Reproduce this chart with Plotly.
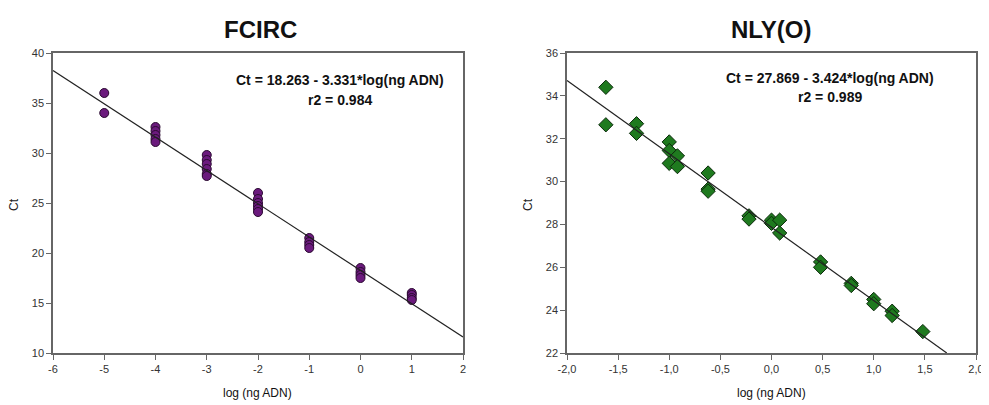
import plotly.graph_objects as go

# FCIRC standard curve data
fcirc_x = [-5, -5,
           -4, -4, -4, -4, -4,
           -3, -3, -3, -3, -3, -3,
           -2, -2, -2, -2, -2, -2,
           -1, -1, -1, -1,
           0, 0, 0, 0,
           1, 1, 1, 1]
fcirc_ct = [36.0, 34.0,
            32.6, 32.2, 31.8, 31.4, 31.1,
            29.8, 29.3, 28.9, 28.4, 27.9, 27.7,
            26.0, 25.4, 25.0, 24.7, 24.4, 24.1,
            21.5, 21.1, 20.8, 20.5,
            18.5, 18.1, 17.8, 17.5,
            16.0, 15.8, 15.5, 15.3]
fcirc_fit = (18.263, -3.331)
fcirc_range = [-6, 2]
fcirc_ticks = [-6, -5, -4, -3, -2, -1, 0, 1, 2]
fcirc_ticklabels = ['-6', '-5', '-4', '-3', '-2', '-1', '0', '1', '2']

# NLY(O) standard curve data
nly_x = [-1.62, -1.62, -1.32, -1.32, -1.0, -1.0, -1.0, -0.92, -0.92,
         -0.62, -0.62, -0.62, -0.22, -0.22, 0.0, 0.0, 0.08, 0.08,
         0.48, 0.48, 0.78, 0.78, 1.0, 1.0, 1.18, 1.18, 1.48]
nly_ct = [34.4, 32.65, 32.7, 32.25, 31.85, 31.45, 30.85, 31.2, 30.7,
          30.4, 29.65, 29.55, 28.4, 28.25, 28.2, 28.05, 28.2, 27.6,
          26.25, 26.0, 25.25, 25.15, 24.5, 24.3, 23.95, 23.75, 23.0]
nly_fit = (27.869, -3.424)
nly_range = [-2.0, 2.0]
nly_ticks = [-2.0, -1.5, -1.0, -0.5, 0.0, 0.5, 1.0, 1.5, 2.0]
nly_ticklabels = ['-2,0', '-1,5', '-1,0', '-0,5', '0,0', '0,5', '1,0', '1,5', '2,0']

# the page body has an 8px margin, so the figure is drawn 8px smaller
W, H, OFF = 981, 397, 8


def px(x):
    return (x - OFF) / W


def py(y):
    return 1 - (y - OFF) / H


fig = go.Figure()

# left panel points and regression line
fig.add_trace(go.Scatter(
    x=fcirc_x, y=fcirc_ct, mode='markers', xaxis='x', yaxis='y',
    marker=dict(symbol='circle', size=9, color='#6b1a7d',
                line=dict(color='#2a0a30', width=1)),
    showlegend=False))
fig.add_trace(go.Scatter(
    x=fcirc_range, y=[fcirc_fit[0] + fcirc_fit[1] * v for v in fcirc_range],
    mode='lines', xaxis='x', yaxis='y', line=dict(color='#222222', width=1.2),
    showlegend=False))

# right panel: line clipped where it meets Ct = 22
x_end = (22 - nly_fit[0]) / nly_fit[1]
fig.add_trace(go.Scatter(
    x=nly_x, y=nly_ct, mode='markers', xaxis='x2', yaxis='y2',
    marker=dict(symbol='diamond', size=11, color='#1f7a1f',
                line=dict(color='#0b2a0b', width=1)),
    showlegend=False))
fig.add_trace(go.Scatter(
    x=[nly_range[0], x_end], y=[nly_fit[0] + nly_fit[1] * v for v in [nly_range[0], x_end]],
    mode='lines', xaxis='x2', yaxis='y2', line=dict(color='#222222', width=1.2),
    showlegend=False))

axis_style = dict(showline=True, linecolor='#666666', linewidth=1.5, mirror=True,
                  ticks='outside', ticklen=5, tickcolor='#666666', showgrid=False,
                  zeroline=False, tickfont=dict(size=11, color='#333333'))

fig.update_layout(
    width=W, height=H,
    margin=dict(l=0, r=0, t=0, b=0, autoexpand=False),
    paper_bgcolor='white', plot_bgcolor='white',
    font=dict(family='Liberation Sans, Arial, sans-serif', color='#222222'),
    xaxis=dict(domain=[px(53), px(463)], range=fcirc_range, tickvals=fcirc_ticks,
               ticktext=fcirc_ticklabels, anchor='y', **axis_style),
    yaxis=dict(domain=[py(353), py(53)], range=[10, 40], dtick=5, anchor='x', **axis_style),
    xaxis2=dict(domain=[px(567), px(976)], range=nly_range, tickvals=nly_ticks,
                ticktext=nly_ticklabels, anchor='y2', **axis_style),
    yaxis2=dict(domain=[py(353), py(53)], range=[22, 36], dtick=2, anchor='x2', **axis_style),
)

# titles, axis labels and fit equations
texts = [
    dict(x=260, y=30, text='<b>FCIRC</b>', size=24),
    dict(x=771, y=30, text='<b>NLY(O)</b>', size=24),
    dict(x=258, y=393, text='log (ng ADN)', size=12),
    dict(x=771, y=393, text='log (ng ADN)', size=12),
    dict(x=340, y=80, text='<b>Ct = 18.263 - 3.331*log(ng ADN)</b>', size=14),
    dict(x=340, y=100, text='<b>r2 = 0.984</b>', size=14),
    dict(x=830, y=78, text='<b>Ct = 27.869 - 3.424*log(ng ADN)</b>', size=14),
    dict(x=830, y=97, text='<b>r2 = 0.989</b>', size=14),
]
for t in texts:
    fig.add_annotation(x=px(t['x']), y=py(t['y']), xref='paper', yref='paper',
                       text=t['text'], showarrow=False, xanchor='center', yanchor='middle',
                       font=dict(size=t['size'], color='#111111'))

for xpos in [14, 528]:
    fig.add_annotation(x=px(xpos), y=py(205), xref='paper', yref='paper',
                       text='Ct', showarrow=False, textangle=-90,
                       xanchor='center', yanchor='middle', font=dict(size=12, color='#222222'))

fig.write_html("out.html")
